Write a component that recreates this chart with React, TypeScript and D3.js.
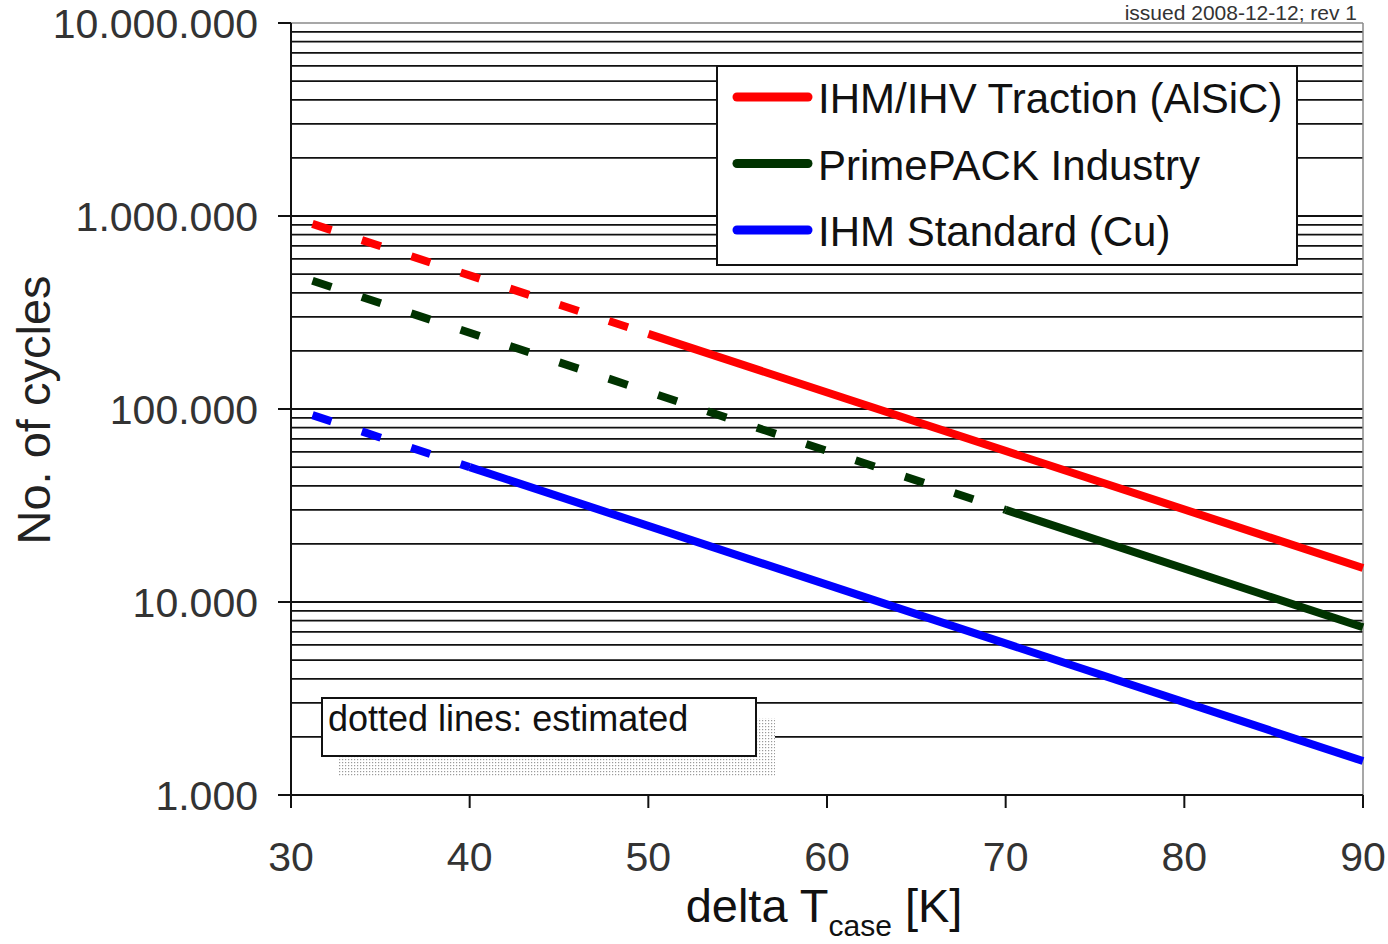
import * as d3 from 'd3';

const W = 1388;
const H = 944;
const MARGIN = { top: 23, right: 25, bottom: 149, left: 291 };

// tick values
const xTicks = [30, 40, 50, 60, 70, 80, 90];
const yTicks = [1000, 10000, 100000, 1000000, 10000000];

// series (delta T [K], no. of cycles)
const seriesNames = ['IHM/IHV Traction (AlSiC)', 'PrimePACK Industry', 'IHM Standard (Cu)'];
const seriesColors = ['#ff0000', '#003300', '#0000ff'];

const tractionEstimated = [
  { t: 31.2, n: 910000 },
  { t: 50, n: 245000 },
];
const tractionMeasured = [
  { t: 50, n: 245000 },
  { t: 90, n: 15000 },
];
const primepackEstimated = [
  { t: 31.2, n: 462000 },
  { t: 70, n: 30000 },
];
const primepackMeasured = [
  { t: 70, n: 30000 },
  { t: 90, n: 7400 },
];
const standardEstimated = [
  { t: 31.2, n: 93000 },
  { t: 40, n: 50000 },
];
const standardMeasured = [
  { t: 40, n: 50000 },
  { t: 90, n: 1500 },
];

const estimated = [tractionEstimated, primepackEstimated, standardEstimated];
const measured = [tractionMeasured, primepackMeasured, standardMeasured];

const FONT = '"Liberation Sans", Arial, sans-serif';

const fmt = d3
  .formatLocale({ decimal: ',', thousands: '.', grouping: [3], currency: ['', ''] })
  .format(',d');

export default function App() {
  const x = d3.scaleLinear().domain([30, 90]).range([MARGIN.left, W - MARGIN.right]);
  const y = d3.scaleLog().domain([1000, 10000000]).range([H - MARGIN.bottom, MARGIN.top]);

  const line = d3
    .line<{ t: number; n: number }>()
    .x((d) => x(d.t))
    .y((d) => y(d.n));

  const x0 = x(30);
  const x1 = x(90);
  const y0 = y(1000);
  const y1 = y(10000000);

  // minor + major grid lines
  const grid = y.ticks().filter((v) => v > 1000 && v < 10000000);

  return (
    <svg
      width={W}
      height={H}
      style={{ position: 'absolute', left: 0, top: 0, display: 'block', background: '#fff' }}
      fontFamily={FONT}
    >
      <defs>
        <pattern id="dots" width={3} height={3} patternUnits="userSpaceOnUse">
          <rect width={3} height={3} fill="#fff" />
          <rect x={0} y={0} width={1.2} height={1.2} fill="#9a9a9a" />
        </pattern>
      </defs>

      <text x={1357} y={20} textAnchor="end" fontSize={21} fill="#333">
        issued 2008-12-12; rev 1
      </text>

      {/* grid */}
      {grid.map((v) => (
        <line key={v} x1={x0} x2={x1} y1={y(v)} y2={y(v)} stroke="#111" strokeWidth={1.8} />
      ))}

      {/* frame top/right */}
      <line x1={x0} x2={x1} y1={y1} y2={y1} stroke="#8a8a8a" strokeWidth={1.5} />
      <line x1={x1} x2={x1} y1={y1} y2={y0} stroke="#8a8a8a" strokeWidth={1.5} />

      {/* axes */}
      <line x1={x0} x2={x0} y1={y1} y2={y0 + 13} stroke="#111" strokeWidth={2} />
      <line x1={x0 - 13} x2={x1} y1={y0} y2={y0} stroke="#111" strokeWidth={2} />
      {yTicks.map((v) => (
        <g key={v}>
          <line x1={x0 - 13} x2={x0} y1={y(v)} y2={y(v)} stroke="#111" strokeWidth={2} />
          <text x={258} y={y(v)} dy="0.36em" textAnchor="end" fontSize={41} fill="#333">
            {fmt(v)}
          </text>
        </g>
      ))}
      {xTicks.map((v) => (
        <g key={v}>
          <line x1={x(v)} x2={x(v)} y1={y0} y2={y0 + 13} stroke="#111" strokeWidth={2} />
          <text x={x(v)} y={871} textAnchor="middle" fontSize={41} fill="#333">
            {v}
          </text>
        </g>
      ))}

      {/* axis titles */}
      <text
        transform={`translate(50, 410) rotate(-90)`}
        textAnchor="middle"
        fontSize={47}
        fill="#222"
      >
        No. of cycles
      </text>
      <text x={(x0 + x1) / 2 - 3} y={922} textAnchor="middle" fontSize={47} fill="#111">
        delta T
        <tspan fontSize={30} dy={14}>
          case
        </tspan>
        <tspan dy={-14}> [K]</tspan>
      </text>

      {/* note box */}
      <rect x={338} y={718} width={437} height={59} fill="url(#dots)" />
      <rect x={322} y={698} width={434} height={58} fill="#fff" stroke="#111" strokeWidth={2} />
      <text x={328} y={731} fontSize={36} fill="#111">
        dotted lines: estimated
      </text>

      {/* series */}
      {estimated.map((s, i) => (
        <path
          key={'e' + i}
          d={line(s) ?? ''}
          fill="none"
          stroke={seriesColors[i]}
          strokeWidth={8}
          strokeDasharray="20 32"
        />
      ))}
      {measured.map((s, i) => (
        <path key={'m' + i} d={line(s) ?? ''} fill="none" stroke={seriesColors[i]} strokeWidth={8} />
      ))}

      {/* legend */}
      <rect x={717} y={66} width={580} height={199} fill="#fff" stroke="#111" strokeWidth={2} />
      {seriesNames.map((name, i) => {
        const cy = 97 + i * 66.5;
        return (
          <g key={name}>
            <line
              x1={737}
              x2={808}
              y1={cy}
              y2={cy}
              stroke={seriesColors[i]}
              strokeWidth={9}
              strokeLinecap="round"
            />
            <text x={818} y={cy + 16} fontSize={42} fill="#111">
              {name}
            </text>
          </g>
        );
      })}
    </svg>
  );
}
